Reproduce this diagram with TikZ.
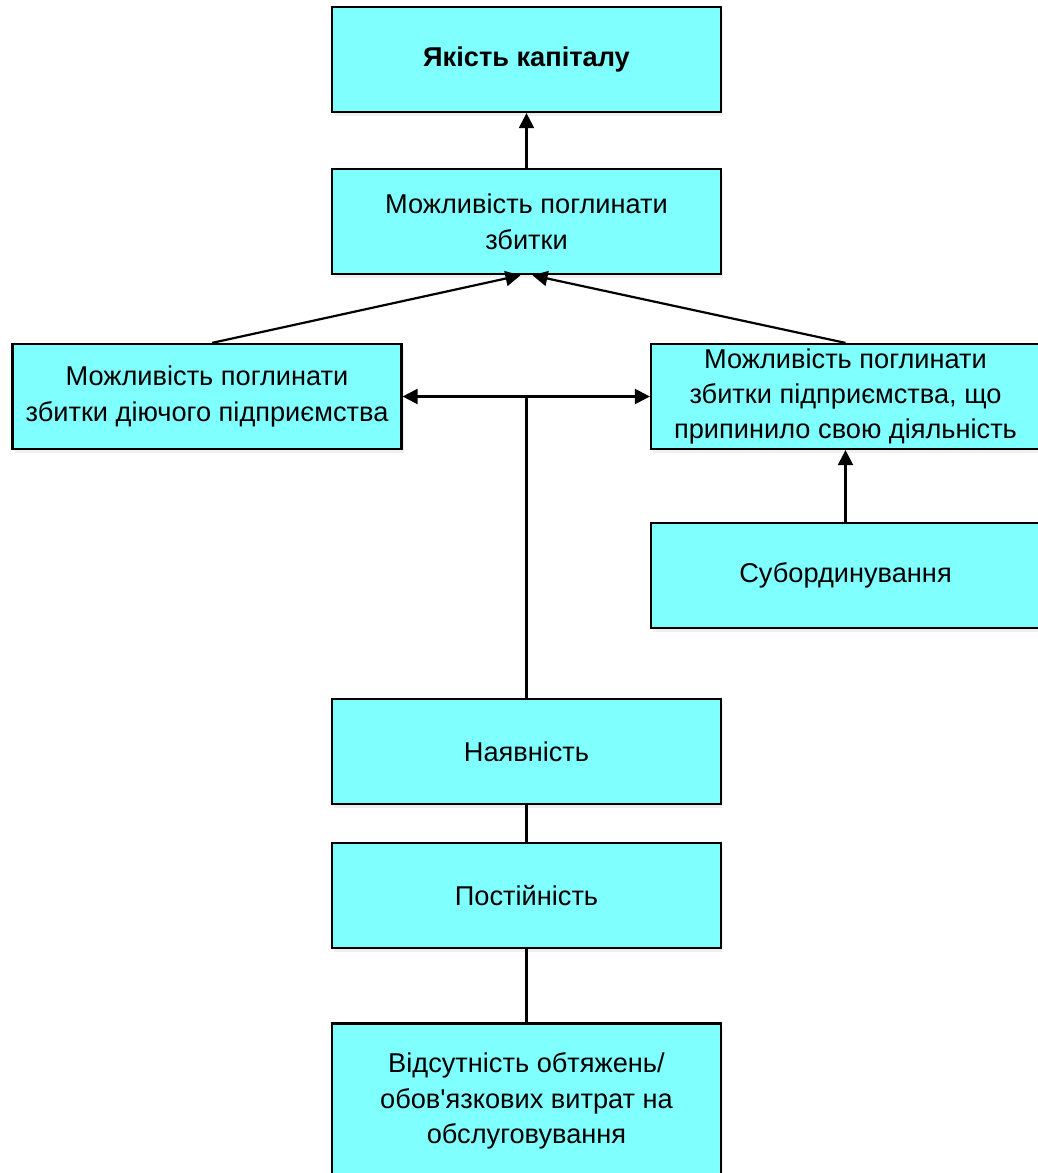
\documentclass[tikz,border=0pt]{standalone}
\usepackage{fontspec}
\setmainfont{Liberation Sans}
\usetikzlibrary{positioning}
\usetikzlibrary{arrows.meta}
\usetikzlibrary{shadows}
\definecolor{boxcyan}{RGB}{128,255,255}
\tikzset{box node/.style={rectangle,draw,fill=boxcyan,minimum width=194.5pt,minimum height=52.5pt,inner sep=2pt,align=center,font=\fontsize{13.6}{17.7}\selectfont,drop shadow={opacity=0.12,shadow xshift=1pt,shadow yshift=-2pt}},}

\begin{document}
\begin{tikzpicture}[x=0.5pt, y=-0.5pt, >={Triangle[length=7.5pt,width=7.5pt]}, line width=1.1pt]
		\clip (0,0) rectangle (1038,1173);
		\node[box node] (kap) at (526.5,59.5) {\textbf{Якість капіталу}};
	    \node[box node] (pohl) [below = 27.5pt of kap] {Можливість поглинати\\збитки};
	    \node[box node] (diyuch) at (207,396.5) {Можливість поглинати\\збитки діючого підприємства};
	    \node[box node] (prypyn) at (845.5,396.5) {Можливість поглинати\\збитки підприємства, що\\припинило свою діяльність};
	    \node[box node] (subord) [below = 36pt of prypyn] {Субординування};
	    \node[box node] (nayav) at (526.5,751.5) {Наявність};
	    \node[box node] (post) [below = 18.5pt of nayav] {Постійність};
	    \node[box node, minimum height=77.5pt] (vidsut) [below = 36.5pt of post] {Відсутність обтяжень/\\обов\textquotesingle язкових витрат на\\обслуговування};
	
	    \draw[->] (pohl) -- (kap);
	    \draw[->] ([xshift=2.5pt]diyuch.north) -- ([xshift=-3pt]pohl.south);
	    \draw[->] (prypyn.north) -- ([xshift=3pt]pohl.south);
	    \draw[<->] (diyuch) -- (prypyn);
	    \draw (nayav.north) -- (nayav.north |- diyuch.east);
	    \draw[->] (subord) -- (prypyn);
	    \draw (nayav) -- (post);
	    \draw (post) -- (vidsut);
\end{tikzpicture}
\end{document}
